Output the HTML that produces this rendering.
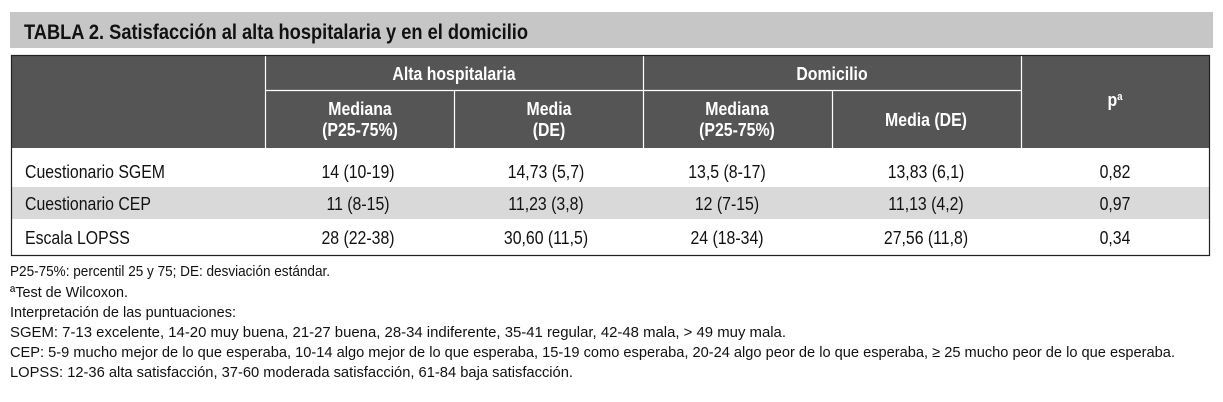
<!DOCTYPE html>
<html><head><meta charset="utf-8"><style>
html,body{margin:0;padding:0;background:#fff;width:1223px;height:402px;overflow:hidden}
svg{display:block}
text{font-family:"Liberation Sans Narrow","Liberation Sans",sans-serif}
.h{fill:#fff;font-weight:bold;font-size:18px}
.b{fill:#111;font-size:18px}
.f{fill:#111;font-size:15px}
</style></head><body>
<svg id="s" width="1223" height="402">
<rect x="10" y="12" width="1203" height="36" fill="#c6c6c6"/>
<text x="24" y="39" font-size="21" font-weight="bold" fill="#111" textLength="504" lengthAdjust="spacingAndGlyphs">TABLA 2. Satisfacción al alta hospitalaria y en el domicilio</text>
<rect x="11" y="55" width="1199" height="93" fill="#555"/>
<g stroke="#fff" stroke-width="1.2">
<line x1="265.5" y1="55" x2="265.5" y2="148"/><line x1="1021.5" y1="55" x2="1021.5" y2="148"/>
<line x1="643.5" y1="55" x2="643.5" y2="148"/><line x1="454.5" y1="90" x2="454.5" y2="148"/>
<line x1="832.5" y1="90" x2="832.5" y2="148"/><line x1="265" y1="90.5" x2="1021" y2="90.5"/>
</g>
<rect x="11" y="187" width="1199" height="32" fill="#d9d9d9"/>
<rect x="11.5" y="55.5" width="1198" height="200" fill="none" stroke="#222" stroke-width="1.2"/>
<g class="hd" text-anchor="middle">
<text class="h" x="454" y="80">Alta hospitalaria</text>
<text class="h" x="832" y="80">Domicilio</text>
<text class="h" x="1115" y="106">p<tspan font-size="11" dy="-6">a</tspan></text>
<text class="h" x="360" y="115">Mediana</text>
<text class="h" x="360" y="136">(P25-75%)</text>
<text class="h" x="549" y="115">Media</text>
<text class="h" x="549" y="136">(DE)</text>
<text class="h" x="737" y="115">Mediana</text>
<text class="h" x="737" y="136">(P25-75%)</text>
<text class="h" x="926" y="126">Media (DE)</text>
</g>
<g id="body" class="sc"></g>
<g id="foot"></g>
</svg>
<script>
const rowLabels=["Cuestionario SGEM","Cuestionario CEP","Escala LOPSS"];
const altaMediana=["14 (10-19)","11 (8-15)","28 (22-38)"];
const altaMedia=["14,73 (5,7)","11,23 (3,8)","30,60 (11,5)"];
const domMediana=["13,5 (8-17)","12 (7-15)","24 (18-34)"];
const domMedia=["13,83 (6,1)","11,13 (4,2)","27,56 (11,8)"];
const pValues=["0,82","0,97","0,34"];
const notes=["P25-75%: percentil 25 y 75; DE: desviación estándar.","ªTest de Wilcoxon.","Interpretación de las puntuaciones:","SGEM: 7-13 excelente, 14-20 muy buena, 21-27 buena, 28-34 indiferente, 35-41 regular, 42-48 mala, > 49 muy mala.","CEP: 5-9 mucho mejor de lo que esperaba, 10-14 algo mejor de lo que esperaba, 15-19 como esperaba, 20-24 algo peor de lo que esperaba, ≥ 25 mucho peor de lo que esperaba.","LOPSS: 12-36 alta satisfacción, 37-60 moderada satisfacción, 61-84 baja satisfacción."];
const NS="http://www.w3.org/2000/svg";
const rowY=[178,210,244];
const cols=[[altaMediana,358],[altaMedia,546],[domMediana,727],[domMedia,926],[pValues,1115]];
const body=document.getElementById('body');
function mk(txt,x,y,cls,anchor){const t=document.createElementNS(NS,'text');t.setAttribute('x',x);t.setAttribute('y',y);t.setAttribute('class',cls);if(anchor)t.setAttribute('text-anchor',anchor);t.textContent=txt;return t;}
rowLabels.forEach((l,i)=>{
  const t=mk(l,25,rowY[i],'b');
  
  
  body.appendChild(t);
  cols.forEach(([arr,x])=>{
    const c=mk(arr[i],x,rowY[i],'b','middle');
    
    
    body.appendChild(c);
  });
});
const footY=[276,297,317,337,357,377];
const footW=[320,118,226,776,1165,563];
const foot=document.getElementById('foot');
notes.forEach((n,i)=>{
  const t=mk(n,10,footY[i],'f');
  t.setAttribute('textLength',footW[i]);
  t.setAttribute('lengthAdjust','spacingAndGlyphs');
  
  
  foot.appendChild(t);
});
document.querySelectorAll('.sc text').forEach(t=>{
  const w=t.getComputedTextLength();
  t.setAttribute('textLength',(w*0.88).toFixed(1));
  t.setAttribute('lengthAdjust','spacingAndGlyphs');
});
document.querySelectorAll('.hd text').forEach(t=>{
  const w=t.getComputedTextLength();
  t.setAttribute('textLength',(w*0.88).toFixed(1));
  t.setAttribute('lengthAdjust','spacingAndGlyphs');
});
</script>
</body></html>
